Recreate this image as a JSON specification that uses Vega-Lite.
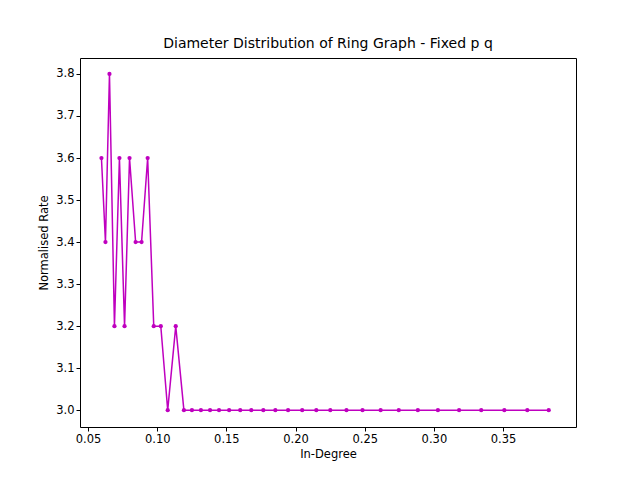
{
  "$schema": "https://vega.github.io/schema/vega-lite/v6.json",
  "autosize": {"type": "none"},
  "padding": {"left": 80, "top": 58, "right": 64, "bottom": 53},
  "width": 496,
  "height": 369,
  "background": "white",
  "title": {"text": "Diameter Distribution of Ring Graph - Fixed p q", "font": "DejaVu Sans", "fontSize": 14, "fontWeight": "normal", "offset": 7, "color": "black"},
  "config": {"view": {"stroke": "black", "strokeWidth": 1}},
  "data": {"values": [
    {"x": 0.0597, "y": 3.6}, {"x": 0.0626, "y": 3.4}, {"x": 0.0655, "y": 3.8}, {"x": 0.0691, "y": 3.2},
    {"x": 0.0727, "y": 3.6}, {"x": 0.0764, "y": 3.2}, {"x": 0.0800, "y": 3.6}, {"x": 0.0844, "y": 3.4},
    {"x": 0.0887, "y": 3.4}, {"x": 0.0931, "y": 3.6}, {"x": 0.0975, "y": 3.2}, {"x": 0.1026, "y": 3.2},
    {"x": 0.1076, "y": 3.0}, {"x": 0.1134, "y": 3.2}, {"x": 0.1193, "y": 3.0}, {"x": 0.1251, "y": 3.0},
    {"x": 0.1316, "y": 3.0}, {"x": 0.1382, "y": 3.0}, {"x": 0.1447, "y": 3.0}, {"x": 0.1520, "y": 3.0},
    {"x": 0.1600, "y": 3.0}, {"x": 0.1680, "y": 3.0}, {"x": 0.1767, "y": 3.0}, {"x": 0.1854, "y": 3.0},
    {"x": 0.1946, "y": 3.0}, {"x": 0.2048, "y": 3.0}, {"x": 0.2150, "y": 3.0}, {"x": 0.2251, "y": 3.0},
    {"x": 0.2368, "y": 3.0}, {"x": 0.2484, "y": 3.0}, {"x": 0.2615, "y": 3.0}, {"x": 0.2746, "y": 3.0},
    {"x": 0.2884, "y": 3.0}, {"x": 0.3029, "y": 3.0}, {"x": 0.3182, "y": 3.0}, {"x": 0.3342, "y": 3.0},
    {"x": 0.3509, "y": 3.0}, {"x": 0.3675, "y": 3.0}, {"x": 0.3830, "y": 3.0}
  ]},
  "mark": {"type": "line", "color": "#bf00bf", "strokeWidth": 1.5, "point": {"color": "#bf00bf", "size": 18, "filled": true, "opacity": 1}},
  "encoding": {
    "x": {"field": "x", "type": "quantitative", "scale": {"domain": [0.0442, 0.4027], "nice": false, "zero": false},
      "axis": {"title": "In-Degree", "values": [0.05, 0.1, 0.15, 0.2, 0.25, 0.3, 0.35], "format": ".2f", "grid": false, "domain": false,
        "tickColor": "black", "tickSize": 4, "labelColor": "black", "labelFont": "DejaVu Sans", "labelFontSize": 11.5,
        "titleFont": "DejaVu Sans", "titleFontSize": 11.5, "titleFontWeight": "normal", "titleColor": "black", "titlePadding": 4}},
    "y": {"field": "y", "type": "quantitative", "scale": {"domain": [2.96, 3.838], "nice": false, "zero": false},
      "axis": {"title": "Normalised Rate", "values": [3.0, 3.1, 3.2, 3.3, 3.4, 3.5, 3.6, 3.7, 3.8], "format": ".1f", "grid": false, "domain": false,
        "tickColor": "black", "tickSize": 4, "labelColor": "black", "labelFont": "DejaVu Sans", "labelFontSize": 11.5,
        "titleFont": "DejaVu Sans", "titleFontSize": 11.5, "titleFontWeight": "normal", "titleColor": "black", "titlePadding": 6}}
  }
}
